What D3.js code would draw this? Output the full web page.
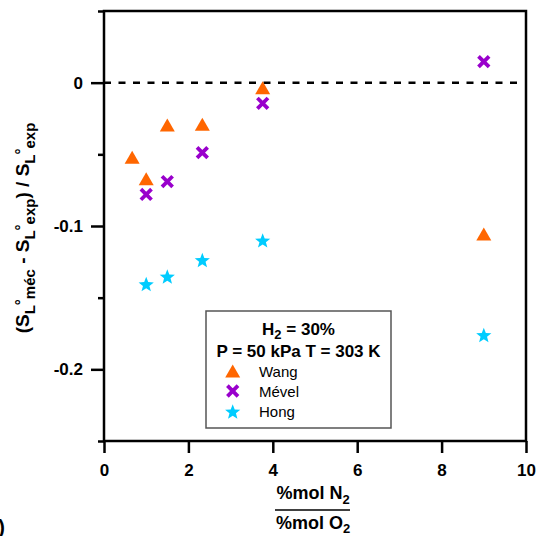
<!DOCTYPE html>
<html><head><meta charset="utf-8">
<script src="https://cdn.jsdelivr.net/npm/d3@7"></script>
<style>html,body{margin:0;padding:0;background:#fff;} svg{display:block;font-family:"Liberation Sans",Arial,sans-serif;}</style>
</head><body>
<svg id="c" width="538" height="536"></svg>
<script>
const ratioWang = [0.667, 1.0, 1.5, 2.33, 3.76, 9.0];
const devWang   = [-0.052, -0.067, -0.0295, -0.029, -0.0035, -0.1056];
const ratioMevel = [1.0, 1.5, 2.33, 3.76, 9.0];
const devMevel   = [-0.078, -0.069, -0.0488, -0.0144, 0.0147];
const ratioHong = [1.0, 1.5, 2.33, 3.76, 9.0];
const devHong   = [-0.1405, -0.1352, -0.1237, -0.110, -0.176];
const xTicks = [0, 2, 4, 6, 8, 10];
const yMajor = [0, -0.1, -0.2];
const yMinor = [0.05, -0.05, -0.15, -0.25];
const seriesNames = ["Wang", "Mével", "Hong"];
const seriesColors = ["#FF6600", "#9900CC", "#00CCFF"];

const svg = d3.select("#c");
const L = 104, R = 526, T = 11, B = 441;
const x = d3.scaleLinear().domain([0, 10]).range([L, R]);
const y = d3.scaleLinear().domain([-0.25, 0.05]).range([B, T]);

// zero dashed line
svg.append("line").attr("x1", x(0)).attr("x2", x(10) - 6).attr("y1", y(0)).attr("y2", y(0))
  .attr("stroke", "#000").attr("stroke-width", 2.5).attr("stroke-dasharray", "7,7.5");

// axes
const fmtY = d => d === 0 ? "0" : d3.format(".1f")(d).replace("−", "-");
const gyMaj = svg.append("g").attr("transform", `translate(${L},0)`)
  .call(d3.axisLeft(y).tickValues(yMajor).tickSize(13).tickPadding(8).tickFormat(fmtY));
const gyMin = svg.append("g").attr("transform", `translate(${L},0)`)
  .call(d3.axisLeft(y).tickValues(yMinor).tickSize(6).tickFormat(""));
const gx = svg.append("g").attr("transform", `translate(0,${B})`)
  .call(d3.axisBottom(x).tickValues(xTicks).tickSize(12).tickPadding(11).tickFormat(d3.format("d")));
[gyMaj, gyMin, gx].forEach(g => {
  g.select(".domain").remove();
  g.selectAll(".tick line").attr("stroke", "#000").attr("stroke-width", 2.5);
  g.selectAll(".tick text").attr("fill", "#000").attr("font-size", 17).attr("font-weight", "bold")
    .attr("font-family", '"Liberation Sans",Arial,sans-serif');
});

// frame
svg.append("rect").attr("x", L).attr("y", T).attr("width", R - L).attr("height", B - T)
  .attr("fill", "none").attr("stroke", "#000").attr("stroke-width", 2.5);

// marker shapes
function triPath(){ const h = 13, w = 15; return `M0,${-h/2}L${w/2},${h/2}L${-w/2},${h/2}Z`; }
function starPath(ro, ri){
  let p = "";
  for (let i = 0; i < 10; i++) {
    const r = i % 2 === 0 ? ro : ri;
    const a = -Math.PI / 2 + i * Math.PI / 5;
    p += (i ? "L" : "M") + (r * Math.cos(a)).toFixed(2) + "," + (r * Math.sin(a)).toFixed(2);
  }
  return p + "Z";
}
function drawTri(g, cx, cy){ g.append("path").attr("d", triPath()).attr("transform", `translate(${cx},${cy})`).attr("fill", seriesColors[0]); }
function drawX(g, cx, cy){
  const s = 5.3;
  g.append("path").attr("d", `M${-s},${-s}L${s},${s}M${-s},${s}L${s},${-s}`)
    .attr("transform", `translate(${cx},${cy})`).attr("stroke", seriesColors[1]).attr("stroke-width", 3.8).attr("fill", "none");
}
function drawStar(g, cx, cy){ g.append("path").attr("d", starPath(8, 3.4)).attr("transform", `translate(${cx},${cy+0.8})`).attr("fill", seriesColors[2]); }

const pts = svg.append("g");
ratioWang.forEach((r, i) => drawTri(pts, x(r), y(devWang[i])));
ratioMevel.forEach((r, i) => drawX(pts, x(r), y(devMevel[i])));
ratioHong.forEach((r, i) => drawStar(pts, x(r), y(devHong[i])));

// legend
const lg = svg.append("g");
lg.append("rect").attr("x", 206).attr("y", 311).attr("width", 185).attr("height", 117)
  .attr("fill", "#fff").attr("stroke", "#555").attr("stroke-width", 1.5);
const t1 = lg.append("text").attr("x", 298.5).attr("y", 335).attr("text-anchor", "middle")
  .attr("font-size", 17).attr("font-weight", "bold");
t1.append("tspan").text("H");
t1.append("tspan").attr("font-size", 13).attr("dy", 4).text("2");
t1.append("tspan").attr("dy", -4).text(" = 30%");
lg.append("text").attr("x", 298.5).attr("y", 357).attr("text-anchor", "middle")
  .attr("font-size", 17).attr("font-weight", "bold").text("P = 50 kPa T = 303 K");
const legY = [371, 391, 411.5];
const drawers = [drawTri, drawX, drawStar];
seriesNames.forEach((n, i) => {
  drawers[i](lg, 232.7, legY[i]);
  lg.append("text").attr("x", 259).attr("y", legY[i] + 5.5).attr("font-size", 15).text(n);
});

// y label
const yl = svg.append("text").attr("transform", "translate(29,228) rotate(-90)")
  .attr("text-anchor", "middle").attr("font-size", 19).attr("font-weight", "bold");
function sl(t, sub){
  t.append("tspan").attr("dy", 0).text("S");
  t.append("tspan").attr("font-size", 15).attr("dy", 6).text("L");
  t.append("tspan").attr("font-size", 15).attr("dy", -9).text("°");
  t.append("tspan").attr("font-size", 15).attr("dy", 9).text(sub);
}
yl.append("tspan").text("(");
sl(yl, "méc");
yl.append("tspan").attr("dy", -6).text(" - ");
sl(yl, "exp");
yl.append("tspan").attr("dy", -6).text(") / ");
sl(yl, "exp");

// x label
const xc = 313;
const xn = svg.append("text").attr("x", xc).attr("y", 499).attr("text-anchor", "middle")
  .attr("font-size", 18).attr("font-weight", "bold");
xn.append("tspan").text("%mol N");
xn.append("tspan").attr("font-size", 13).attr("dy", 5).text("2");
svg.append("line").attr("x1", 275).attr("x2", 350).attr("y1", 510).attr("y2", 510)
  .attr("stroke", "#000").attr("stroke-width", 1.5);
const xo = svg.append("text").attr("x", xc).attr("y", 529).attr("text-anchor", "middle")
  .attr("font-size", 18).attr("font-weight", "bold");
xo.append("tspan").text("%mol O");
xo.append("tspan").attr("font-size", 13).attr("dy", 4).text("2");

// partial panel label (cut off at the left edge, as in the reference)
svg.append("text").attr("x", 5).attr("y", 534).attr("text-anchor", "end")
  .attr("font-size", 20).attr("font-weight", "bold").text("b)");
</script>
</body></html>
